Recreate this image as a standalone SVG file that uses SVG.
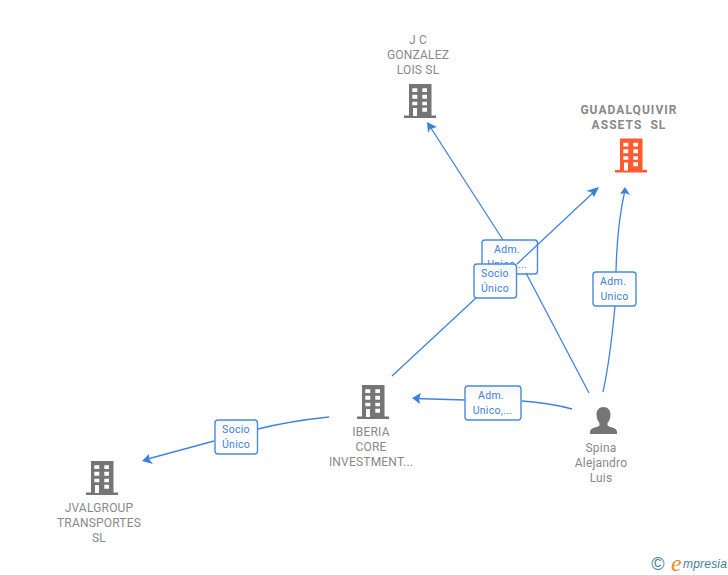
<svg xmlns="http://www.w3.org/2000/svg" width="728" height="575" viewBox="0 0 728 575">
<style>
.n{font:12px Roboto,"Liberation Sans",Arial,sans-serif;fill:#888;text-anchor:middle;letter-spacing:.2px}
.b{font-weight:bold;font-size:12px;letter-spacing:1.050px;white-space:pre}
.e{fill:none;stroke:#3f83e2;stroke-width:1.3}
.l{fill:url(#lg);stroke:#4a8ae0;stroke-width:1.4}
.t{font:10.500px Roboto,"Liberation Sans",Arial,sans-serif;fill:#3b7fe0;text-anchor:middle;letter-spacing:.3px}
.a{fill:#3b7fe0}
</style>
<defs>
<linearGradient id="lg" x1="0" y1="0" x2="0" y2="1"><stop offset="0" stop-color="#f6f6f6"/><stop offset=".5" stop-color="#fff"/><stop offset="1" stop-color="#fff"/></linearGradient>
<path id="bld" fill-rule="evenodd" d="M-11-32H11.500V-.5H16V2H-16V-.5H-11ZM-7.700-27.700V-24H-2.700V-27.700ZM2.300-27.700V-24H7V-27.700ZM-7.700-21.300V-17.300H-2.700V-21.300ZM2.300-21.300V-17.300H7V-21.300ZM-7.700-14.300V-10.700H-2.700V-14.300ZM2.300-14.300V-10.700H7V-14.300ZM-7-8V0H-3V-8ZM2.300-8.300V-4.300H7V-8.300Z"/>
</defs>
<g id="label-adm1"><rect class="l" x="482" y="240" width="55.500" height="34" rx="3"/><text class="t"><tspan x="507" y="253">Adm.</tspan><tspan x="507" y="268">Unico,...</tspan></text></g>
<g id="connectors">
<path class="e" d="M503 240L429 125"/><path class="a" d="M427 122L437 127L430 129L428 133Z"/>
<path class="e" d="M392 376L476 298M517 264L596 190"/><path class="a" d="M599 187L594 197L591 192L586 191Z"/>
<path class="e" d="M589 393L526 273"/>
<path class="e" d="M603 392Q610 360 615 306M616 272Q617 225 625 190"/><path class="a" d="M625 187L630 195L625 193L620 194Z"/>
<path class="e" d="M572 409Q550 403 522 401M465 400L415 398.500"/><path class="a" d="M412 398L421 393L419 399L420 404Z"/>
<path class="e" d="M329 417Q290 421 258 429M214 441L144 460"/><path class="a" d="M142 461L149 454L149 459L153 464Z"/>
</g>
<g id="node-jc"><use href="#bld" x="420" y="116" fill="#757575"/><text class="n"><tspan x="418" y="44">J C</tspan><tspan x="418" y="59">GONZALEZ</tspan><tspan x="418" y="74">LOIS SL</tspan></text></g>
<g id="node-guadalquivir"><use href="#bld" x="631" y="170.500" fill="#ff5a30"/><text class="n b"><tspan x="629" y="114">GUADALQUIVIR</tspan><tspan x="629" y="129">ASSETS  SL</tspan></text></g>
<g id="node-iberia"><use href="#bld" x="373" y="417" fill="#757575"/><text class="n"><tspan x="371" y="436">IBERIA</tspan><tspan x="371" y="451">CORE</tspan><tspan x="371" y="466">INVESTMENT...</tspan></text></g>
<g id="node-jval"><use href="#bld" x="102" y="493" fill="#757575"/><text class="n"><tspan x="99" y="512">JVALGROUP</tspan><tspan x="99" y="527">TRANSPORTES</tspan><tspan x="99" y="542">SL</tspan></text></g>
<g id="node-spina"><path fill="#757575" d="M603.500 407C608 407 610.500 410.500 610.500 414.500C610.500 418.500 609 421.500 607.500 423V425.500C610 427.500 616.500 427.500 617 431.500V434H590V431.500C590.500 427.500 597 427.500 599.500 425.500V423C598 421.500 596.500 418.500 596.500 414.500C596.500 410.500 599 407 603.500 407Z"/><text class="n"><tspan x="601" y="452">Spina</tspan><tspan x="601" y="467">Alejandro</tspan><tspan x="601" y="482">Luis</tspan></text></g>
<g id="label-socio1"><rect class="l" x="474" y="264" width="42.500" height="34" rx="3"/><text class="t"><tspan x="495" y="277">Socio</tspan><tspan x="495" y="292">Único</tspan></text></g>
<g id="label-adm2"><rect class="l" x="593" y="272" width="43" height="34" rx="3"/><text class="t"><tspan x="613" y="285">Adm.</tspan><tspan x="614.500" y="300">Unico</tspan></text></g>
<g id="label-adm3"><rect class="l" x="465" y="386" width="56" height="34" rx="3"/><text class="t"><tspan x="491" y="399">Adm.</tspan><tspan x="492.500" y="414">Unico,...</tspan></text></g>
<g id="label-socio2"><rect class="l" x="215" y="420" width="42.500" height="34" rx="3"/><text class="t"><tspan x="236" y="433">Socio</tspan><tspan x="236" y="448">Único</tspan></text></g>
<g id="brand"><text x="658" y="570" font-family="Liberation Sans,sans-serif" font-size="18" fill="#3f7f9a" text-anchor="middle">©</text><text x="671" y="571" font-family="Liberation Serif,serif" font-style="italic" font-size="24" fill="#f08a1a">e</text><text x="683" y="568" font-family="Liberation Sans,sans-serif" font-style="italic" font-size="12" fill="#3f7f9a" letter-spacing=".2">mpresia</text></g>
</svg>
